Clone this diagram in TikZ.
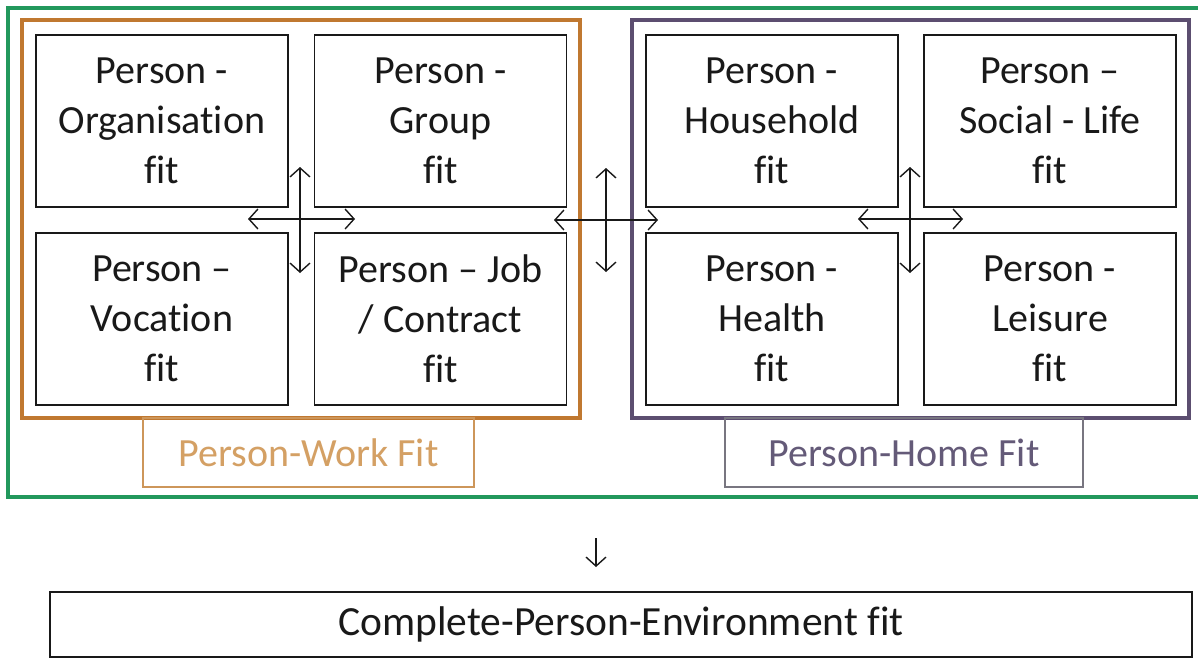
\documentclass[tikz,border=0pt]{standalone}
\usepackage{fontspec}
\setmainfont{Carlito}[Ligatures=NoCommon]
\usetikzlibrary{arrows.meta}
\definecolor{frameGreen}{RGB}{34,152,92}
\definecolor{frameOrange}{RGB}{192,120,48}
\definecolor{framePurple}{RGB}{92,78,112}
\definecolor{workText}{RGB}{212,160,100}
\definecolor{workEdge}{RGB}{205,150,90}
\definecolor{homeText}{RGB}{100,90,120}
\definecolor{homeEdge}{RGB}{120,118,128}
\definecolor{ink}{RGB}{25,25,25}
\tikzset{
  fitbox/.style={draw=ink, line width=1.7pt, minimum width=252pt, minimum height=172pt,
    inner sep=0pt, align=center, text=ink,
    font=\fontsize{40}{50}\selectfont},
  labelbox/.style={line width=1.3pt, inner sep=0pt, font=\fontsize{40}{48}\selectfont},
  twoway/.style={{Straight Barb[length=9pt,width=20pt]}-{Straight Barb[length=9pt,width=20pt]}, line width=1.4pt, draw=ink},
  oneway/.style={-{Straight Barb[length=9pt,width=20pt]}, line width=1.4pt, draw=ink},
}
\begin{document}
\begin{tikzpicture}[x=1pt,y=-1pt]
\useasboundingbox (0,0) rectangle (1198,659);
\fill[white] (0,0) rectangle (1198,659);
% outer frames
\draw[frameGreen, line width=3.5pt] (8,8) rectangle (1210,497);
\draw[frameOrange, line width=4pt] (22,20) rectangle (580,418);
\draw[framePurple, line width=4pt] (632,20) rectangle (1189,418);
% fit boxes
\node[fitbox] (org) at (162,121) {Person -\\Organisation\\fit};
\node[fitbox] (grp) at (440.5,121) {Person -\\Group\\fit};
\node[fitbox] (voc) at (162,319) {Person –\\Vocation\\fit};
\node[fitbox] (job) at (440.5,319) {Person – Job\\/ Contract\\fit};
\node[fitbox] (hh) at (772,121) {Person -\\Household\\fit};
\node[fitbox] (soc) at (1050,121) {Person –\\Social - Life\\fit};
\node[fitbox] (hea) at (772,319) {Person -\\Health\\fit};
\node[fitbox] (lei) at (1050,319) {Person -\\Leisure\\fit};
% labels
\draw[workEdge, line width=1.3pt] (143,418) rectangle (474,487);
\node[labelbox, text=workText] (work) at (308.5,453) {Person-Work Fit};
\draw[homeEdge, line width=1.3pt] (725,418) rectangle (1083,487);
\node[labelbox, text=homeText] (home) at (904,453) {Person-Home Fit};
% complete box
\node[draw=ink, line width=1.7pt, minimum width=1142pt, minimum height=65pt, inner sep=0pt,
  font=\fontsize{41.5}{48}\selectfont, text=ink] (cpe) at (621,624.5) {Complete-Person-Environment fit};
% arrow coordinates
\coordinate (lh1) at (248,219); \coordinate (lh2) at (355,219);
\coordinate (lv1) at (300,167); \coordinate (lv2) at (300,273);
\coordinate (mh1) at (554,220); \coordinate (mh2) at (658,220);
\coordinate (mv1) at (606,168); \coordinate (mv2) at (606,272);
\coordinate (rh1) at (858,219); \coordinate (rh2) at (963,219);
\coordinate (rv1) at (910,167); \coordinate (rv2) at (910,273);
\coordinate (d1) at (596,538); \coordinate (d2) at (596,567);
\draw[twoway] (lh1) -- (lh2);
\draw[twoway] (lv1) -- (lv2);
\draw[twoway] (mh1) -- (mh2);
\draw[twoway] (mv1) -- (mv2);
\draw[twoway] (rh1) -- (rh2);
\draw[twoway] (rv1) -- (rv2);
\draw[oneway] (d1) -- (d2);
\end{tikzpicture}
\end{document}
